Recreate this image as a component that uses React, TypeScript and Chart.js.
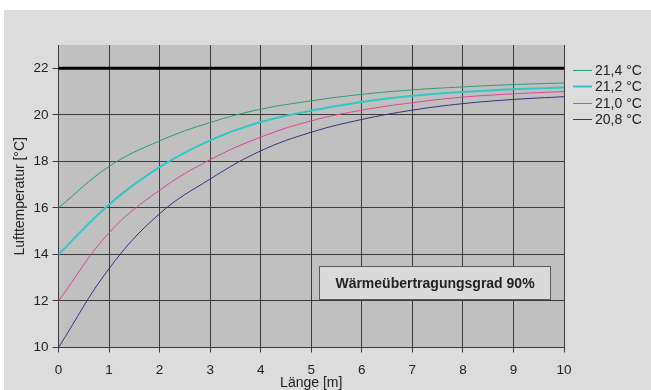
import React, { useEffect, useRef } from "react";
import Chart from "chart.js/auto";

const lengths = [0, 1, 2, 3, 4, 5, 6, 7, 8, 9, 10];
const series214 = [16, 17.78, 18.88, 19.67, 20.24, 20.6, 20.88, 21.07, 21.2, 21.3, 21.37];
const series212 = [14, 16.15, 17.75, 18.9, 19.69, 20.18, 20.55, 20.82, 20.98, 21.1, 21.17];
const series210 = [12, 14.93, 16.76, 18.07, 19.04, 19.74, 20.2, 20.52, 20.76, 20.9, 21.0];
const series208 = [10, 13.39, 15.75, 17.24, 18.45, 19.25, 19.8, 20.2, 20.48, 20.66, 20.78];
const referenceLine = [22, 22, 22, 22, 22, 22, 22, 22, 22, 22, 22];
const seriesLabels = ["21,4 °C", "21,2 °C", "21,0 °C", "20,8 °C"];
const seriesColors = ["#2f9a78", "#33c6c6", "#e0449a", "#33337f"];
const seriesWidths = [1, 2, 1, 1];
const yTickValues = [10, 12, 14, 16, 18, 20, 22];
const annotationText = "Wärmeübertragungsgrad 90%";
const xTitle = "Länge [m]";
const yTitle = "Lufttemperatur [°C]";

const FONT = "'Liberation Sans', Arial, sans-serif";

const bgPlugin = {
  id: "plotBg",
  beforeDraw(chart: any) {
    const { ctx, chartArea } = chart;
    ctx.save();
    ctx.fillStyle = "#c0c0c0";
    ctx.fillRect(chartArea.left, chartArea.top, chartArea.right - chartArea.left, chartArea.bottom - chartArea.top);
    ctx.restore();
  },
};

const overlayPlugin = {
  id: "overlay",
  afterDraw(chart: any) {
    const { ctx, scales } = chart;
    const xs = scales.x;
    const ys = scales.y;
    ctx.save();
    // annotation box
    const x0 = Math.round(xs.getPixelForValue(5.15)) + 0.5;
    const x1 = Math.round(xs.getPixelForValue(9.72)) + 0.5;
    const y0 = Math.round(ys.getPixelForValue(13.5)) + 0.5;
    const y1 = Math.round(ys.getPixelForValue(12.08)) + 0.5;
    ctx.fillStyle = "#dadada";
    ctx.fillRect(x0, y0, x1 - x0, y1 - y0);
    ctx.strokeStyle = "#5a5a5a";
    ctx.lineWidth = 1;
    ctx.strokeRect(x0, y0, x1 - x0, y1 - y0);
    ctx.fillStyle = "#222";
    ctx.font = `bold 14px ${FONT}`;
    ctx.textAlign = "center";
    ctx.textBaseline = "middle";
    ctx.fillText(annotationText, (x0 + x1) / 2, (y0 + y1) / 2 + 1);

    // legend
    const lx = chart.chartArea.right + 9;
    ctx.font = `14px ${FONT}`;
    ctx.textAlign = "left";
    seriesLabels.forEach((lab, i) => {
      const y = Math.round(60 + i * 16.4) + 0.5;
      ctx.strokeStyle = seriesColors[i];
      ctx.lineWidth = seriesWidths[i];
      ctx.beginPath();
      ctx.moveTo(lx, y);
      ctx.lineTo(lx + 19, y);
      ctx.stroke();
      ctx.fillStyle = "#222";
      ctx.fillText(lab, lx + 22, y + 1);
    });
    ctx.restore();
  },
};

export default function App() {
  const ref = useRef<HTMLCanvasElement | null>(null);
  useEffect(() => {
    if (!ref.current) return;
    const mk = (vals: number[]) => lengths.map((x, i) => ({ x, y: vals[i] }));
    const all = [series214, series212, series210, series208];
    const datasets: any[] = all.map((vals, i) => ({
      label: seriesLabels[i],
      data: mk(vals),
      borderColor: seriesColors[i],
      borderWidth: seriesWidths[i],
      pointRadius: 0,
      fill: false,
      tension: 0.4,
    }));
    datasets.push({
      label: "ref",
      data: mk(referenceLine),
      borderColor: "#000",
      borderWidth: 3,
      pointRadius: 0,
      fill: false,
    });
    const gridColor = "#3c3c3c";
    const chart = new Chart(ref.current, {
      type: "line",
      data: { datasets },
      options: {
        animation: false,
        responsive: false,
        devicePixelRatio: 1,
        layout: { padding: { top: 35, right: 87, left: 0, bottom: 0 } },
        plugins: { legend: { display: false }, tooltip: { enabled: false } },
        scales: {
          x: {
            type: "linear",
            min: 0,
            max: 10,
            ticks: { stepSize: 1, color: "#222", font: { family: FONT, size: 13.5 }, padding: 10 },
            grid: { color: gridColor, tickColor: gridColor, tickLength: 5, lineWidth: 1 },
            border: { color: gridColor, width: 1 },
            title: { display: true, text: xTitle, color: "#222", font: { family: FONT, size: 14 }, padding: { top: -1, bottom: -1.5 } },
            afterFit(scale: any) {
              scale.height = 42.5;
            },
          },
          y: {
            type: "linear",
            min: 10,
            max: 23,
            afterBuildTicks(scale: any) {
              scale.ticks = yTickValues.map((v) => ({ value: v }));
            },
            ticks: { color: "#222", font: { family: FONT, size: 13.5 }, padding: 4 },
            grid: { color: gridColor, tickColor: gridColor, tickLength: 6, lineWidth: 1 },
            border: { color: gridColor, width: 1 },
            title: { display: true, text: yTitle, color: "#222", font: { family: FONT, size: 14 }, padding: { top: 7.5, bottom: 0 } },
            afterFit(scale: any) {
              scale.width = 54.5;
            },
          },
        },
      },
      plugins: [bgPlugin, overlayPlugin],
    });
    return () => chart.destroy();
  }, []);
  return (
    <div style={{ position: "absolute", left: 4, top: 10, width: 647, height: 380, background: "#dcdcdc" }}>
      <canvas ref={ref} width={647} height={380} style={{ display: "block" }} />
    </div>
  );
}
